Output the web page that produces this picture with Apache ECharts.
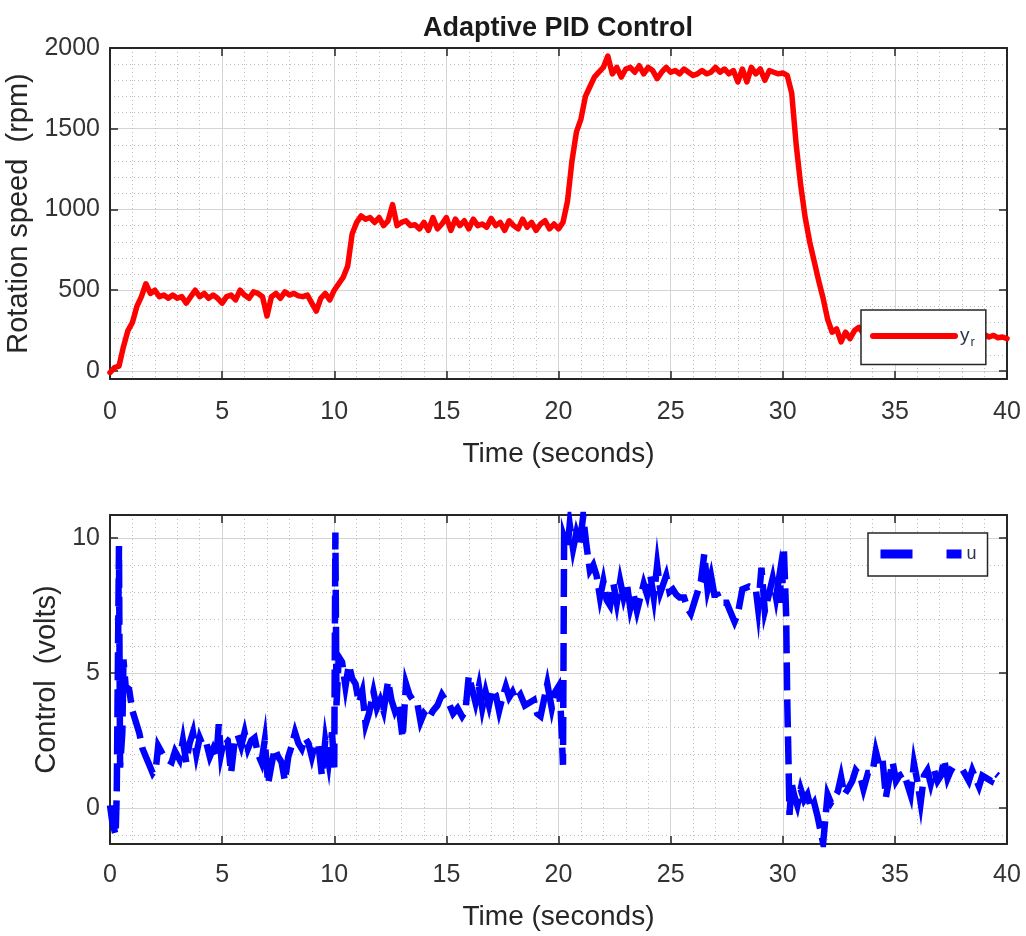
<!DOCTYPE html>
<html>
<head>
<meta charset="utf-8">
<script src="https://cdn.jsdelivr.net/npm/echarts@6/dist/echarts.min.js"></script>
<style>
html,body{margin:0;padding:0;background:#fff;}
#chart{width:1026px;height:936px;}
</style>
</head>
<body>
<div id="chart"></div>
<script>
// ---- data ----
const chartTitle = 'Adaptive PID Control';
const xTicks = [0, 5, 10, 15, 20, 25, 30, 35, 40];
const speedTicks = [0, 500, 1000, 1500, 2000];
const controlTicks = [0, 5, 10];

const speedTime = [
 0.0,0.2,0.4,0.6,0.8,1.0,1.2,1.4,1.6,1.8,2.0,2.2,2.4,2.6,2.8,3.0,3.2,3.4,3.6,3.8,
 4.0,4.2,4.4,4.6,4.8,5.0,5.2,5.4,5.6,5.8,6.0,6.2,6.4,6.6,6.8,7.0,7.2,7.4,7.6,7.8,
 8.0,8.2,8.4,8.6,8.8,9.0,9.2,9.4,9.6,9.8,10.0,10.2,10.4,10.6,10.8,11.0,11.2,11.4,11.6,11.8,
 12.0,12.2,12.4,12.6,12.8,13.0,13.2,13.4,13.6,13.8,14.0,14.2,14.4,14.6,14.8,15.0,15.2,15.4,15.6,15.8,
 16.0,16.2,16.4,16.6,16.8,17.0,17.2,17.4,17.6,17.8,18.0,18.2,18.4,18.6,18.8,19.0,19.2,19.4,19.6,19.8,
 20.0,20.2,20.4,20.6,20.8,21.0,21.2,21.4,21.6,21.8,22.0,22.2,22.4,22.6,22.8,23.0,23.2,23.4,23.6,23.8,
 24.0,24.2,24.4,24.6,24.8,25.0,25.2,25.4,25.6,25.8,26.0,26.2,26.4,26.6,26.8,27.0,27.2,27.4,27.6,27.8,
 28.0,28.2,28.4,28.6,28.8,29.0,29.2,29.4,29.6,29.8,30.0,30.2,30.4,30.6,30.8,31.0,31.2,31.4,31.6,31.8,
 32.0,32.2,32.4,32.6,32.8,33.0,33.2,33.4,33.6,33.8,34.0,34.2,34.4,34.6,34.8,35.0,35.2,35.4,35.6,35.8,
 36.0,36.2,36.4,36.6,36.8,37.0,37.2,37.4,37.6,37.8,38.0,38.2,38.4,38.6,38.8,39.0,39.2,39.4,39.6,39.8,40.0
];
const speedValue = [
 -10,20,30,150,250,300,400,460,540,480,500,460,470,450,470,450,460,420,460,500,
 460,480,450,470,450,420,460,470,440,500,470,450,490,480,460,340,460,480,450,490,
 470,480,465,460,470,420,370,450,480,440,500,540,580,650,850,920,960,940,950,920,
 950,900,930,1030,900,920,930,900,905,880,920,870,950,880,910,950,870,940,900,930,
 880,940,900,910,890,945,900,920,870,930,900,880,940,890,920,870,910,930,880,910,
 880,920,1050,1300,1480,1560,1700,1760,1820,1850,1880,1950,1840,1880,1820,1870,1880,1850,1890,1840,
 1880,1860,1810,1850,1880,1850,1860,1840,1870,1850,1830,1840,1860,1840,1850,1880,1850,1870,1840,1860,
 1790,1870,1790,1880,1840,1870,1800,1860,1850,1840,1845,1830,1720,1400,1150,950,800,680,560,450,
 320,240,260,180,240,200,250,270,230,250,240,230,250,235,240,225,245,230,240,225,
 235,230,240,225,230,235,225,230,220,230,225,230,220,235,215,225,210,220,205,210,200
];

const controlTime = [
 0,0.1,0.25,0.3,0.4,0.45,0.55,0.6,0.7,0.85,1.0,1.3,1.45,1.6,1.75,1.9,2.05,2.15,2.35,2.55,
 2.75,2.9,3.1,3.25,3.4,3.55,3.7,3.85,4.0,4.15,4.3,4.45,4.6,4.75,4.85,4.95,5.1,5.25,5.4,5.55,
 5.7,5.85,6.0,6.15,6.3,6.45,6.6,6.75,6.9,7.05,7.2,7.35,7.5,7.65,7.8,7.95,8.1,8.25,8.4,8.55,
 8.7,8.85,9.0,9.15,9.3,9.45,9.6,9.75,9.9,10.0,10.05,10.1,10.2,10.35,10.5,10.65,10.8,10.95,11.1,11.25,
 11.4,11.55,11.75,11.9,12.05,12.2,12.4,12.55,12.7,12.85,13.05,13.2,13.35,13.5,13.7,13.85,14.0,14.2,14.4,14.6,
 14.8,14.95,15.1,15.3,15.5,15.7,15.85,16.0,16.15,16.3,16.45,16.6,16.75,16.9,17.05,17.2,17.35,17.5,17.65,17.8,
 17.95,18.1,18.3,18.5,18.7,18.9,19.05,19.2,19.35,19.5,19.7,19.85,20.0,20.1,20.2,20.25,20.4,20.5,20.65,20.8,
 20.95,21.1,21.25,21.4,21.55,21.7,21.85,22.0,22.15,22.3,22.45,22.6,22.75,22.9,23.05,23.2,23.35,23.5,23.65,23.8,
 23.95,24.1,24.25,24.4,24.55,24.8,24.95,25.1,25.25,25.4,25.6,25.75,25.9,26.05,26.2,26.35,26.5,26.65,26.8,26.95,
 27.1,27.25,27.5,27.65,27.85,28.0,28.2,28.5,28.8,28.9,29.05,29.2,29.35,29.55,29.7,29.85,29.95,30.05,30.15,30.2,
 30.25,30.3,30.4,30.5,30.65,30.8,30.95,31.1,31.25,31.4,31.55,31.7,31.8,31.9,32.0,32.15,32.3,32.45,32.6,32.75,
 32.9,33.1,33.25,33.45,33.6,33.8,34.0,34.15,34.3,34.45,34.6,34.75,34.9,35.05,35.2,35.4,35.55,35.7,35.85,36.0,
 36.15,36.3,36.45,36.6,36.75,36.9,37.05,37.2,37.35,37.5,37.7,37.9,38.1,38.3,38.45,38.6,38.75,38.9,39.1,39.3,
 39.45,39.6
];
const controlValue = [
 0.1,-0.5,-1.0,0.5,9.7,1.5,2.8,5.5,4.5,4.4,3.6,2.8,2.2,1.9,1.6,1.3,1.5,2.3,2.0,1.8,
 1.7,2.1,1.8,2.5,1.7,2.4,2.8,2.0,2.6,2.3,2.4,1.9,2.2,1.9,3.1,2.0,2.6,2.5,1.3,2.4,
 2.7,2.3,2.8,2.2,2.5,2.6,2.0,1.7,2.5,0.9,1.6,2.2,1.9,1.7,1.0,1.9,2.3,2.8,2.4,2.2,
 2.6,2.4,1.9,2.4,2.3,1.2,2.5,1.7,2.8,1.5,10.2,3.8,5.6,5.4,4.5,5.3,4.8,4.6,3.9,4.3,
 3.1,3.5,4.3,3.7,4.0,3.6,4.7,4.0,3.6,3.9,2.6,4.6,4.2,4.0,3.9,3.2,3.5,3.3,3.6,3.8,
 4.2,4.0,3.9,3.5,3.7,3.4,3.6,4.9,4.4,3.9,4.5,3.7,4.3,3.8,4.4,4.2,3.6,4.1,4.5,4.1,
 4.3,4.0,4.2,3.8,3.9,4.0,3.5,3.4,4.0,4.6,3.7,4.3,4.5,3.6,1.6,10.0,9.6,10.5,9.6,10.2,
 9.8,10.8,9.7,8.8,9.0,8.6,7.8,8.4,7.7,7.5,8.3,7.6,8.4,7.8,8.3,7.4,7.9,7.3,7.8,8.3,
 7.9,8.6,7.8,9.0,8.0,8.6,8.0,8.1,7.9,7.8,7.8,7.4,7.2,7.6,8.0,8.4,9.4,8.1,8.6,7.9,
 7.9,7.6,7.6,7.3,6.9,7.2,8.1,8.2,8.1,7.4,8.9,7.3,7.8,8.5,7.8,8.6,7.6,9.6,7.2,4.0,
 2.0,-0.25,0.9,0.5,0.1,0.7,0.3,0.5,0.0,0.2,-0.3,-0.9,-1.3,-0.4,0.5,0.2,0.4,0.6,1.15,0.5,
 0.7,1.0,1.4,1.2,0.7,1.3,1.3,2.1,1.6,1.8,0.4,1.1,1.7,1.0,1.2,1.3,0.9,0.5,1.65,1.0,
 0.2,1.2,1.4,0.9,1.4,1.0,1.2,1.8,1.1,1.4,1.3,1.2,1.3,1.0,1.4,1.1,0.8,1.2,1.1,1.0,
 1.3,1.2
];

// ---- chart ----
const FONT = "'Liberation Sans', Arial, Helvetica, sans-serif";
const AX = '#262626';
const chart = echarts.init(document.getElementById('chart'), null, {renderer: 'canvas'});

const speedData = speedTime.map((t, i) => [t, speedValue[i]]);
const controlData = controlTime.map((t, i) => [t, controlValue[i]]);

const gridTop = {left: 110, top: 48, width: 897, height: 331, outerBoundsMode: 'none', containLabel: false};
const gridBot = {left: 110, top: 515, width: 897, height: 329, outerBoundsMode: 'none', containLabel: false};

function mainX(gridIndex, nameGap, labelMargin) {
  return {
    type: 'value', gridIndex, min: xTicks[0], max: xTicks[xTicks.length - 1], interval: xTicks[1] - xTicks[0],
    position: 'bottom',
    name: 'Time (seconds)', nameLocation: 'middle', nameGap,
    nameTextStyle: {fontFamily: FONT, fontSize: 28, color: AX},
    axisLine: {show: true, onZero: false, lineStyle: {color: AX, width: 2}},
    axisTick: {show: true, inside: true, length: 8, lineStyle: {color: AX, width: 1.5}},
    axisLabel: {fontFamily: FONT, fontSize: 25, color: '#333', margin: labelMargin},
    splitLine: {show: true, lineStyle: {color: '#d4d4d4', width: 1}},
    minorTick: {show: false, splitNumber: 5},
    minorSplitLine: {show: true, lineStyle: {color: '#bdbdbd', width: 1, type: [1, 3]}}
  };
}
function mirrorX(gridIndex) {
  return {
    type: 'value', gridIndex, min: xTicks[0], max: xTicks[xTicks.length - 1], interval: xTicks[1] - xTicks[0],
    position: 'top',
    axisLine: {show: true, onZero: false, lineStyle: {color: AX, width: 2}},
    axisTick: {show: true, inside: true, length: 8, lineStyle: {color: AX, width: 1.5}},
    axisLabel: {show: false}, splitLine: {show: false}
  };
}
function mainY(gridIndex, min, max, step, name, nameGap, showMax) {
  return {
    type: 'value', gridIndex, min, max, minInterval: step, maxInterval: step, splitNumber: 5,
    position: 'left',
    name, nameLocation: 'middle', nameGap,
    nameTextStyle: {fontFamily: FONT, fontSize: 29, color: AX},
    axisLine: {show: true, onZero: false, lineStyle: {color: AX, width: 2}},
    axisTick: {show: true, inside: true, length: 8, lineStyle: {color: AX, width: 1.5}},
    axisLabel: {fontFamily: FONT, fontSize: 25, color: '#333', margin: 10, showMinLabel: false, showMaxLabel: showMax,
      formatter: v => String(v)},
    splitLine: {show: true, lineStyle: {color: '#d4d4d4', width: 1}},
    minorTick: {show: false, splitNumber: 5},
    minorSplitLine: {show: true, lineStyle: {color: '#bdbdbd', width: 1, type: [1, 3]}}
  };
}
function mirrorY(gridIndex, min, max, step) {
  return {
    type: 'value', gridIndex, min, max, minInterval: step, maxInterval: step, splitNumber: 5,
    position: 'right',
    axisLine: {show: true, onZero: false, lineStyle: {color: AX, width: 2}},
    axisTick: {show: true, inside: true, length: 8, lineStyle: {color: AX, width: 1.5}},
    axisLabel: {show: false}, splitLine: {show: false}
  };
}

const option = {
  backgroundColor: '#ffffff',
  animation: false,
  title: {
    text: chartTitle, left: 553, top: 10, textAlign: 'center',
    textStyle: {fontFamily: FONT, fontSize: 27, fontWeight: 'bold', color: '#1a1a1a'}
  },
  grid: [gridTop, gridBot],
  xAxis: [mainX(0, 61, 21), mirrorX(0), mainX(1, 59, 19), mirrorX(1)],
  yAxis: [
    mainY(0, -50, 2000, speedTicks[1] - speedTicks[0], 'Rotation speed  (rpm)', 66, true),
    mirrorY(0, -50, 2000, speedTicks[1] - speedTicks[0]),
    mainY(1, -1.33, 10.85, controlTicks[1] - controlTicks[0], 'Control  (volts)', 39, false),
    mirrorY(1, -1.33, 10.85, controlTicks[1] - controlTicks[0])
  ],
  legend: [
    {
      data: ['y_r'], left: 861, top: 310, orient: 'vertical',
      padding: [16, 11, 16, 9], itemWidth: 82, itemHeight: 20, itemGap: 0,
      backgroundColor: '#fff', borderColor: AX, borderWidth: 1.5, borderRadius: 0,
      lineStyle: {width: 6},
      itemStyle: {opacity: 0},
      formatter: () => '{y|y}{r|r}',
      textStyle: {fontFamily: FONT, color: '#2b3550', lineHeight: 20,
        rich: {y: {fontSize: 19, fontFamily: FONT, color: '#2b3550'}, r: {fontSize: 13, fontFamily: FONT, color: '#2b3550', padding: [12, 0, 0, 1]}}}
    },
    {
      data: ['u'], left: 868, top: 533, orient: 'vertical',
      padding: [11, 11, 12, 8], itemWidth: 81, itemHeight: 20, itemGap: 0,
      backgroundColor: '#fff', borderColor: AX, borderWidth: 1.5, borderRadius: 0,
      lineStyle: {width: 9, type: [32, 34]},
      itemStyle: {opacity: 0},
      textStyle: {fontFamily: FONT, fontSize: 18, color: '#2b3550', lineHeight: 20}
    }
  ],
  series: [
    {
      name: 'y_r', type: 'line', xAxisIndex: 0, yAxisIndex: 0, data: speedData,
      showSymbol: false, symbol: 'none', clip: true,
      lineStyle: {color: '#ff0000', width: 5.5, join: 'round', cap: 'round'},
      itemStyle: {color: '#ff0000'}
    },
    {
      name: 'u', type: 'line', xAxisIndex: 2, yAxisIndex: 2, data: controlData,
      showSymbol: false, symbol: 'none', clip: true,
      lineStyle: {color: '#0000ff', width: 6.5, type: [28, 9], cap: 'butt', join: 'miter'},
      itemStyle: {color: '#0000ff'}
    }
  ]
};
chart.setOption(option);
</script>
</body>
</html>
